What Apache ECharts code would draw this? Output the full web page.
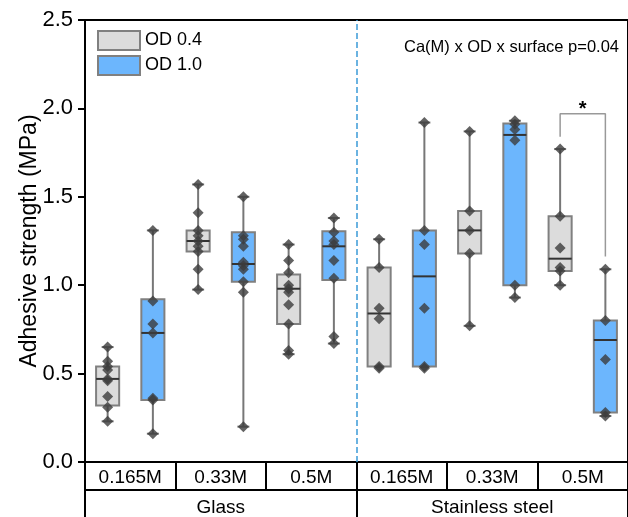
<!DOCTYPE html>
<html>
<head>
<meta charset="utf-8">
<script src="https://cdn.jsdelivr.net/npm/echarts@6/dist/echarts.min.js"></script>
<style>
html,body{margin:0;padding:0;background:#fff;overflow:hidden;}
#a{width:628px;height:517px;}
</style>
</head>
<body>
<div id="a"></div>
<script>
// 数据区
var concLabels = ['0.165M', '0.33M', '0.5M', '0.165M', '0.33M', '0.5M'];
var surfaceLabels = ['Glass', 'Stainless steel'];
var yTicks = [0, 0.5, 1.0, 1.5, 2.0, 2.5];

// [min, Q1, median, Q3, max]
var od04Boxes = [
    [0.23, 0.32, 0.47, 0.54, 0.65],
    [0.975, 1.19, 1.25, 1.31, 1.57],
    [0.61, 0.78, 0.98, 1.06, 1.23],
    [0.54, 0.54, 0.84, 1.10, 1.26],
    [0.77, 1.18, 1.31, 1.42, 1.87],
    [1.00, 1.08, 1.15, 1.39, 1.77]
];
var od10Boxes = [
    [0.16, 0.35, 0.73, 0.92, 1.31],
    [0.20, 1.02, 1.12, 1.30, 1.50],
    [0.67, 1.03, 1.22, 1.305, 1.38],
    [0.54, 0.54, 1.05, 1.31, 1.92],
    [0.93, 1.00, 1.85, 1.915, 1.93],
    [0.26, 0.28, 0.69, 0.80, 1.09]
];
var od04Points = [
    [0.65, 0.57, 0.54, 0.52, 0.47, 0.46, 0.37, 0.31, 0.23],
    [1.57, 1.41, 1.31, 1.28, 1.25, 1.22, 1.19, 1.09, 0.975],
    [1.23, 1.14, 1.07, 1.00, 0.98, 0.96, 0.89, 0.78, 0.63, 0.61],
    [1.26, 1.10, 0.87, 0.81, 0.54, 0.53],
    [1.87, 1.42, 1.31, 1.18, 0.77],
    [1.77, 1.39, 1.21, 1.10, 1.08, 1.00]
];
var od10Points = [
    [1.31, 0.91, 0.78, 0.73, 0.36, 0.35, 0.16],
    [1.50, 1.28, 1.26, 1.22, 1.13, 1.11, 1.09, 1.02, 0.96, 0.20],
    [1.38, 1.30, 1.25, 1.23, 1.14, 1.04, 0.71, 0.67],
    [1.92, 1.31, 1.23, 0.87, 0.54, 0.53],
    [1.93, 1.91, 1.88, 1.82, 1.00, 0.93],
    [1.09, 0.80, 0.58, 0.28, 0.26]
];
// 显著性标注 (SS 0.5M): 左端高度, 顶部, 右端高度
var sigBracket = [1.84, 1.97, 1.163];

// 构建
function boxData(boxes, off) {
    return boxes.map(function (b, i) { return [i * 2 + off].concat(b); });
}
function pointData(pts, off) {
    var out = [];
    pts.forEach(function (arr, i) {
        arr.forEach(function (v) { out.push([i * 2 + off, v]); });
    });
    return out;
}

function renderBox(params, api) {
    var x = api.value(0);
    var lo = api.coord([x, api.value(1)]);
    var q1 = api.coord([x, api.value(2)]);
    var md = api.coord([x, api.value(3)]);
    var q3 = api.coord([x, api.value(4)]);
    var hi = api.coord([x, api.value(5)]);
    var hw = api.size([1, 0])[0] * 0.255;
    var cw = 6;
    var cx = lo[0];
    var st = api.style();
    var ls = { stroke: '#777', lineWidth: 2 };
    return {
        type: 'group',
        children: [
            { type: 'line', shape: { x1: cx, y1: hi[1], x2: cx, y2: q3[1] }, style: ls },
            { type: 'line', shape: { x1: cx, y1: q1[1], x2: cx, y2: lo[1] }, style: ls },
            { type: 'line', shape: { x1: cx - cw, y1: hi[1], x2: cx + cw, y2: hi[1] }, style: ls },
            { type: 'line', shape: { x1: cx - cw, y1: lo[1], x2: cx + cw, y2: lo[1] }, style: ls },
            { type: 'rect', shape: { x: cx - hw, y: q3[1], width: hw * 2, height: q1[1] - q3[1] },
              style: { fill: st.fill, stroke: '#808080', lineWidth: 2 } },
            { type: 'line', shape: { x1: cx - hw, y1: md[1], x2: cx + hw, y2: md[1] },
              style: { stroke: '#333', lineWidth: 2 } }
        ]
    };
}

var myechart = echarts.init(document.getElementById('a'));
var option = {
    animation: false,
    textStyle: { fontFamily: 'Liberation Sans, Arial, sans-serif' },
    title: {
        text: 'Ca(M) x OD x surface p=0.04',
        right: 4, top: 34,
        textStyle: { fontSize: 16.5, fontWeight: 'normal', color: '#000' }
    },
    legend: {
        left: 92, top: 25, orient: 'vertical',
        itemWidth: 42, itemHeight: 19, itemGap: 4, icon: 'rect',
        textStyle: { fontSize: 18, color: '#000' },
        data: ['OD 0.4', 'OD 1.0']
    },
    //右侧超出画面
    grid: { left: 85, right: -7, top: 20, bottom: 55, show: true, borderColor: '#000', borderWidth: 2 },
    xAxis: [
        { type: 'value', min: -0.5, max: 11.5, show: false },
        {
            type: 'category', position: 'bottom', data: concLabels,
            axisLine: { show: true, lineStyle: { color: '#000', width: 2 } },
            axisTick: { show: true, length: 28, lineStyle: { color: '#000', width: 2 } },
            axisLabel: { fontSize: 19, color: '#000', margin: 6 }
        },
        {
            type: 'category', position: 'bottom', offset: 28, data: surfaceLabels,
            axisLine: { show: true, lineStyle: { color: '#000', width: 2 } },
            axisTick: { show: true, length: 28, lineStyle: { color: '#000', width: 2 } },
            axisLabel: { fontSize: 19, color: '#000', margin: 8 }
        }
    ],
    yAxis: {
        type: 'value', min: 0, max: 2.5, interval: 0.5,
        name: 'Adhesive strength (MPa)', nameLocation: 'middle', nameGap: 44,
        nameMoveOverlap: false,
        nameTextStyle: { fontSize: 23, color: '#000' },
        axisLine: { show: true, onZero: false, lineStyle: { color: '#000', width: 2 } },
        axisTick: { show: true, length: 7, lineStyle: { color: '#000', width: 2 } },
        axisLabel: { fontSize: 22, color: '#000', margin: 12,
            formatter: function (v) { return yTicks.indexOf(v) >= 0 ? v.toFixed(1) : ''; } },
        splitLine: { show: false }
    },
    series: [
        {
            name: 'OD 0.4', type: 'custom', xAxisIndex: 0, renderItem: renderBox,
            itemStyle: { color: '#dcdcdc', borderColor: '#808080', borderWidth: 1.5 },
            encode: { x: 0, y: [1, 2, 3, 4, 5] },
            data: boxData(od04Boxes, 0),
            markLine: {
                silent: true, symbol: 'none', label: { show: false },
                lineStyle: { color: '#3b9ad8', type: [6, 3], width: 1.5 },
                data: [{ xAxis: 5.5 }]
            }
        },
        {
            name: 'OD 1.0', type: 'custom', xAxisIndex: 0, renderItem: renderBox,
            itemStyle: { color: '#6cb6fd', borderColor: '#808080', borderWidth: 1.5 },
            encode: { x: 0, y: [1, 2, 3, 4, 5] },
            data: boxData(od10Boxes, 1)
        },
        {
            type: 'scatter', xAxisIndex: 0, symbol: 'diamond', symbolSize: [11, 11],
            itemStyle: { color: '#3c3c3c' }, z: 5,
            data: pointData(od04Points, 0).concat(pointData(od10Points, 1))
        },
        {
            type: 'line', xAxisIndex: 0, symbol: 'none', z: 4,
            lineStyle: { color: '#999', width: 1.5 },
            data: [[10, sigBracket[0]], [10, sigBracket[1]], [11, sigBracket[1]], [11, sigBracket[2]]],
            markPoint: {
                symbol: 'circle', symbolSize: 0,
                label: { show: true, formatter: '*', fontSize: 20, fontWeight: 'bold', color: '#000', offset: [0, 3] },
                data: [{ coord: [10.5, sigBracket[1] + 0.04] }]
            }
        }
    ]
};
myechart.setOption(option);
</script>
</body>
</html>
